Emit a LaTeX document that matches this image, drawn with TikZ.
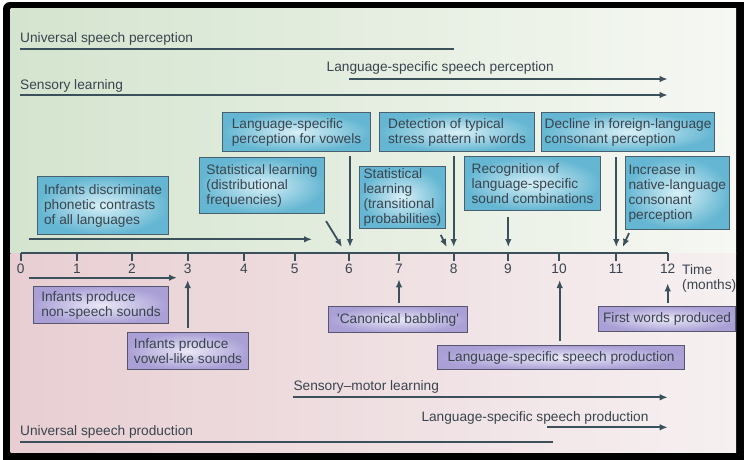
\documentclass[tikz,border=0pt]{standalone}
\usepackage{fontspec}
\setmainfont{Liberation Sans}
\usetikzlibrary{arrows.meta,calc}
\definecolor{txt}{RGB}{58,68,78}
\definecolor{ln}{RGB}{58,80,90}
\definecolor{bblue}{RGB}{100,182,210}
\definecolor{bbluein}{RGB}{216,240,247}
\definecolor{bbord}{RGB}{72,96,110}
\definecolor{ppl}{RGB}{170,160,214}
\definecolor{pplin}{RGB}{234,232,247}
\definecolor{pbord}{RGB}{88,86,108}
\definecolor{gL}{RGB}{212,228,206}
\definecolor{gR}{RGB}{246,248,243}
\definecolor{pL}{RGB}{232,206,210}
\definecolor{pR}{RGB}{246,240,241}
\begin{document}
\begin{tikzpicture}[x=1pt,y=-1pt, font=\fontsize{13.7}{15}\selectfont, text=txt,
  bluebox/.style={draw=bbord, line width=1.1pt, shade, shading=radial, inner color=bbluein, outer color=bblue, align=left, anchor=north west, inner xsep=4pt, inner ysep=2pt},
  purplebox/.style={draw=pbord, line width=1.1pt, shade, shading=radial, inner color=pplin, outer color=ppl, align=left, anchor=north west, inner xsep=4pt, inner ysep=2pt},
  arr/.style={draw=ln, line width=1.8pt, -{Latex[length=8pt,width=6.5pt]}},
  plain/.style={draw=ln, line width=1.8pt},
  lbl/.style={anchor=base west, inner sep=0pt}]
\useasboundingbox (0,0) rectangle (744,459);
% frame and background
\fill[white] (0,0) rectangle (744,459);
\fill[black, rounded corners=7pt] (3,2) rectangle (760,475);
\shade[left color=gL, right color=gR] (10.5,8) rectangle (736,253);
\shade[left color=pL, right color=pR] (10.5,253) rectangle (736,452);

% time axis
\foreach \m/\x in {0/20.7,1/77,2/132,3/187.7,4/244,5/294.7,6/349,7/399,8/453.7,9/508,10/559,11/616,12/667.7}{
  \coordinate (m\m) at (\x,253);
  \draw[plain] (m\m) -- ++(0,8);
  \node[anchor=base, inner sep=0pt] (l\m) at (\x,273.3) {\m};
}
\draw[plain] (m0) -- (m12);
\node[lbl] (time) at (682,274) {Time};
\node[lbl] (months) at (682,289) {(months)};

% top bands
\node[lbl] (usp) at (20,42.3) {Universal speech perception};
\coordinate (usp1) at (20,48.7); \coordinate (usp2) at (453.7,48.7);
\draw[plain] (usp1) -- (usp2);
\node[lbl] (lsp) at (326.5,71) {Language-specific speech perception};
\coordinate (lsp1) at (349,79); \coordinate (lsp2) at (667.7,79);
\draw[arr] (lsp1) -- (lsp2);
\node[lbl] (sl) at (20,89) {Sensory learning};
\coordinate (sl1) at (20,95); \coordinate (sl2) at (667.7,95);
\draw[arr] (sl1) -- (sl2);

% blue boxes
\node[bluebox, minimum width=148pt, minimum height=39pt] (B1) at (222,112) {Language-specific\\perception for vowels};
\node[bluebox, minimum width=125pt, minimum height=56pt] (B2) at (199,157) {Statistical learning\\(distributional\\frequencies)};
\node[bluebox, minimum width=83pt, minimum height=61pt] (B3) at (359,166) {Statistical\\learning\\(transitional\\probabilities)};
\node[bluebox, minimum width=155pt, minimum height=39pt] (B4) at (379,112) {Detection of typical\\stress pattern in words};
\node[bluebox, minimum width=173pt, minimum height=39pt, inner xsep=3pt] (B5) at (541,112) {Decline in foreign-language\\consonant perception};
\node[bluebox, minimum width=136pt, minimum height=54pt] (B6) at (464,156) {Recognition of\\language-specific\\sound combinations};
\node[bluebox, minimum width=94pt, minimum height=73pt, inner xsep=3pt] (B7) at (625,156) {Increase in\\native-language\\consonant\\perception};
\node[bluebox, minimum width=131pt, minimum height=58pt] (B8) at (37,176) {Infants discriminate\\phonetic contrasts\\of all languages};

% arrows above axis
\coordinate (ta1) at (29,239.3); \coordinate (ta2) at (312,239.3);
\draw[arr] (ta1) -- (ta2);
\coordinate (a6) at (350,247);
\draw[arr, shorten <=4pt] (B1.south -| a6) -- (a6);
\coordinate (a6d) at (342,247);
\draw[arr] ($(B2.south east)+(1,7)$) -- (a6d);
\coordinate (a8d) at (446.7,247);
\draw[arr] ($(B3.south east)+(-5,6)$) -- (a8d);
\coordinate (a8) at (453.7,247);
\draw[arr, shorten <=4pt] (B4.south -| a8) -- (a8);
\coordinate (a9) at (508.3,247);
\draw[arr, shorten <=6pt] (B6.south -| a9) -- (a9);
\coordinate (a11) at (616.3,247);
\draw[arr, shorten <=5pt] (B5.south -| a11) -- (a11);
\coordinate (a11d) at (622.7,247);
\draw[arr] ($(B7.south west)+(4,3)$) -- (a11d);

% purple boxes
\node[purplebox, minimum width=135pt, minimum height=37pt] (P1) at (33,286) {Infants produce\\non-speech sounds};
\node[purplebox, minimum width=121pt, minimum height=37pt] (P2) at (127,332) {Infants produce\\vowel-like sounds};
\node[purplebox, minimum width=139pt, minimum height=26pt] (P3) at (328,306) {\textquotesingle Canonical babbling\textquotesingle};
\node[purplebox, minimum width=247pt, minimum height=24pt] (P4) at (437,345) {Language-specific speech production};
\node[purplebox, minimum width=137pt, minimum height=25pt] (P5) at (598,306) {First words produced};

% arrows below axis
\coordinate (ba1) at (29,277.7); \coordinate (ba2) at (177,277.7);
\draw[arr] (ba1) -- (ba2);
\coordinate (b3) at (187.7,280);
\draw[arr, shorten <=4pt] (P2.north -| b3) -- (b3);
\coordinate (b7) at (399,279.3);
\draw[arr, shorten <=3pt] (P3.north -| b7) -- (b7);
\coordinate (b10) at (559.7,280);
\draw[arr, shorten <=4pt] (P4.north -| b10) -- (b10);
\coordinate (b12) at (667.7,283.3);
\draw[arr, shorten <=3pt] (P5.north -| b12) -- (b12);

% bottom bands
\node[lbl] (sml) at (293.3,390.7) {Sensory–motor learning};
\coordinate (sml1) at (293.3,397.3); \coordinate (sml2) at (667.7,397.3);
\draw[arr] (sml1) -- (sml2);
\node[lbl] (lspp) at (421.3,421.7) {Language-specific speech production};
\coordinate (lspp1) at (547,427.3); \coordinate (lspp2) at (667.7,427.3);
\draw[arr] (lspp1) -- (lspp2);
\node[lbl] (uspr) at (20,435.7) {Universal speech production};
\coordinate (uspr1) at (20,441.7); \coordinate (uspr2) at (553,441.7);
\draw[plain] (uspr1) -- (uspr2);
\end{tikzpicture}
\end{document}
